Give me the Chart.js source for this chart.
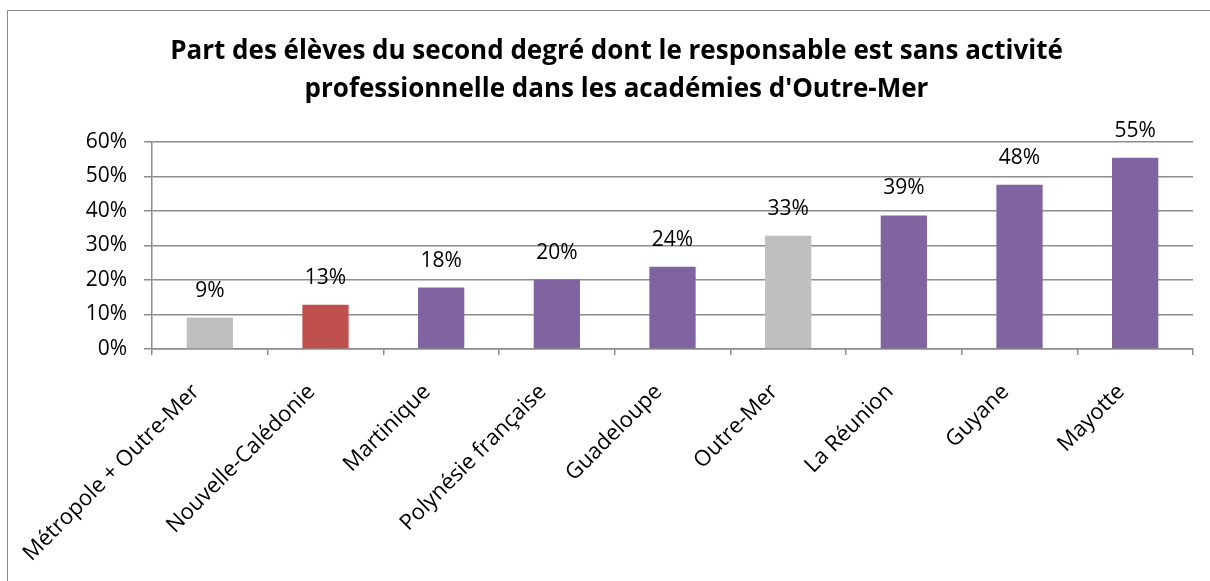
<!DOCTYPE html>
<html><head><meta charset="utf-8">
<script src="https://cdn.jsdelivr.net/npm/chart.js@4/dist/chart.umd.min.js"></script>
<style>
html,body{margin:0;padding:0;background:#fff;overflow:hidden;}
#frame{position:absolute;left:7px;top:10px;width:1220px;height:600px;border:1.5px solid #8a8a8a;box-sizing:border-box;}
#wrap{position:absolute;left:0;top:0;width:1210px;height:581px;}
</style></head>
<body>
<div id="frame"></div>
<div id="wrap"><canvas id="c" width="1210" height="581"></canvas></div>
<script>
const categories = ["Métropole + Outre-Mer","Nouvelle-Calédonie","Martinique","Polynésie française","Guadeloupe","Outre-Mer","La Réunion","Guyane","Mayotte"];
const values = [0.091,0.128,0.178,0.201,0.238,0.328,0.387,0.476,0.554];
const valueLabels = ["9%","13%","18%","20%","24%","33%","39%","48%","55%"];
const barColors = ["#BFBFBF","#C0504D","#8064A2","#8064A2","#8064A2","#BFBFBF","#8064A2","#8064A2","#8064A2"];
const yTicks = [0,0.1,0.2,0.3,0.4,0.5,0.6];
const titleLines = ["Part des élèves du second degré dont le responsable est sans activité","professionnelle dans les académies d'Outre-Mer"];

const FONT = "'Open Sans', 'Liberation Sans', sans-serif";

const labelPlugin = {
  id: 'valueLabels',
  afterDatasetsDraw(chart){
    const ctx = chart.ctx;
    const meta = chart.getDatasetMeta(0);
    ctx.save();
    ctx.font = "21px " + FONT;
    ctx.fillStyle = "#000";
    ctx.textAlign = "center";
    ctx.textBaseline = "middle";
    meta.data.forEach((bar,i)=>{
      ctx.fillText(valueLabels[i], bar.x, bar.y - 27);
    });
    ctx.restore();
  }
};

new Chart(document.getElementById('c'), {
  type: 'bar',
  data: {
    labels: categories,
    datasets: [{
      data: values,
      backgroundColor: barColors,
      borderWidth: 0,
      barPercentage: 0.4,
      categoryPercentage: 1.0
    }]
  },
  options: {
    responsive: false,
    animation: false,
    devicePixelRatio: 1,
    layout: { padding: { left: 40, right: 17, top: 33, bottom: 0 } },
    plugins: {
      legend: { display: false },
      tooltip: { enabled: false },
      title: {
        display: true,
        text: titleLines,
        color: "#000",
        font: { family: FONT, size: 26, weight: 'bold', lineHeight: 1.46 },
        padding: { top: 0, bottom: 33 }
      }
    },
    scales: {
      y: {
        min: 0, max: 0.6,
        afterBuildTicks(scale){ scale.ticks = yTicks.map(v=>({value:v})); },
        afterFit(scale){ scale.width = 112; },
        ticks: {
          color: "#000",
          font: { family: FONT, size: 21 },
          padding: 17,
          callback: v => Math.round(v*100) + "%"
        },
        grid: { color: "#8c8c8c", lineWidth: 1.5, tickLength: 8, drawTicks: true },
        border: { color: "#8c8c8c", width: 1.5 }
      },
      x: {
        afterFit(scale){ scale.height = 232; },
        ticks: {
          color: "#000",
          font: { family: FONT, size: 22 },
          maxRotation: 45, minRotation: 45,
          padding: 24,
          labelOffset: -14,
          autoSkip: false
        },
        grid: { drawOnChartArea: false, color: "#8c8c8c", lineWidth: 1.5, tickLength: 6, offset: true },
        border: { color: "#8c8c8c", width: 1.5 }
      }
    }
  },
  plugins: [labelPlugin]
});
</script>
</body></html>
